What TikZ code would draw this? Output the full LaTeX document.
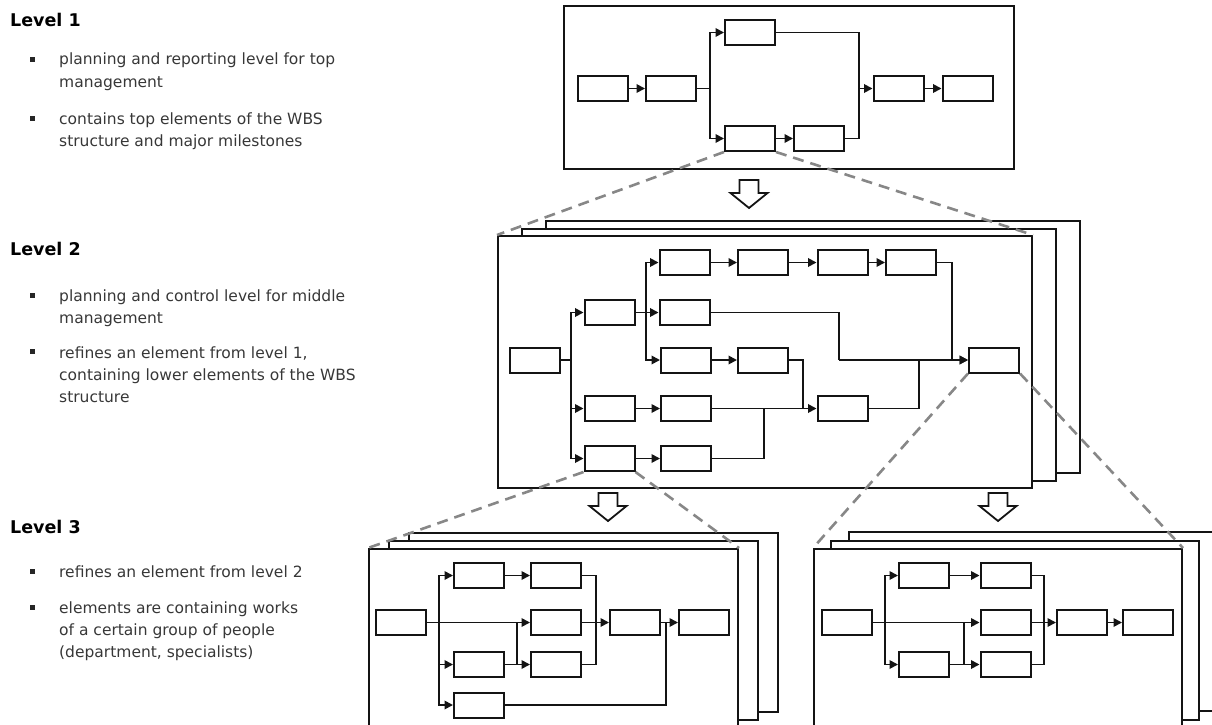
\documentclass[tikz,border=0pt]{standalone}
\usepackage{fontspec}
\setmainfont{DejaVu Sans}
\usetikzlibrary{arrows.meta, calc}
\definecolor{textGray}{RGB}{55, 55, 55}
\definecolor{zoomGray}{RGB}{135, 135, 135}
\definecolor{lineBlack}{RGB}{20, 20, 20}
\tikzset{
  taskBox/.style={
    draw=lineBlack,
    line width=2pt,
    fill=white,
    rectangle,
    minimum width=50pt,
    minimum height=25pt,
    inner sep=0pt
  },
  levelFrame/.style={
    draw=lineBlack,
    line width=2pt,
    fill=white,
    rectangle,
    anchor=north west,
    inner sep=0pt
  },
  flowLine/.style={
    draw=lineBlack,
    line width=1.8pt
  },
  flowArrow/.style={
    flowLine,
    -{Triangle[length=8.5pt, width=8.5pt]}
  },
  zoomLine/.style={
    draw=zoomGray,
    line width=2.6pt,
    dash pattern=on 11pt off 7pt
  },
  blockArrow/.style={
    draw=lineBlack,
    line width=1.8pt,
    fill=white
  },
  levelHead/.style={
    anchor=base west,
    inner sep=0pt,
    font=\fontsize{17.5}{21}\selectfont\bfseries
  },
  % anchor sits on the baseline of the last line
  levelText/.style={
    anchor=base west,
    inner sep=0pt,
    align=left,
    font=\fontsize{15.5}{22}\selectfont,
    text=textGray
  },
  bulletMark/.style={
    fill=black!85,
    rectangle,
    minimum size=5pt,
    inner sep=0pt
  }
}
\newcommand{\blockdown}[2]{%
  \draw[blockArrow] (#1-9.5,#2) -- (#1+9.5,#2) -- (#1+9.5,#2+13) -- (#1+18.5,#2+13)
    -- (#1,#2+28) -- (#1-18.5,#2+13) -- (#1-9.5,#2+13) -- cycle;}

\begin{document}
\begin{tikzpicture}[x=1pt, y=-1pt]
  \useasboundingbox (0,0) rectangle (1212,725);

  % Level descriptions
  \node[levelHead] (head1) at (10,27) {Level 1};
  \node[bulletMark] (dot1a) at (32,60) {};
  \node[levelText] (text1a) at (59,87) {planning and reporting level for top\\management};
  \node[bulletMark] (dot1b) at (32,118) {};
  \node[levelText] (text1b) at (59,146) {contains top elements of the WBS\\structure and major milestones};

  \node[levelHead] (head2) at (10,255) {Level 2};
  \node[bulletMark] (dot2a) at (32,295) {};
  \node[levelText] (text2a) at (59,323) {planning and control level for middle\\management};
  \node[bulletMark] (dot2b) at (32,351) {};
  \node[levelText] (text2b) at (59,402) {refines an element from level 1,\\containing lower elements of the WBS\\structure};

  \node[levelHead] (head3) at (10,533) {Level 3};
  \node[bulletMark] (dot3a) at (32,571) {};
  \node[levelText] (text3a) at (59,577) {refines an element from level 2};
  \node[bulletMark] (dot3b) at (32,607) {};
  \node[levelText] (text3b) at (59,657) {elements are containing works\\of a certain group of people\\(department, specialists)};

  % Level 1 plan
  \node[levelFrame, minimum width=450pt, minimum height=163pt] (lvl1) at (563,5) {};
  \node[taskBox] (t30) at (602.5,88.5) {};
  \node[taskBox] (t31) at (671,88.5) {};
  \node[taskBox] (t12) at (750,32.5) {};
  \node[taskBox] (t52) at (750,138.5) {};
  \node[taskBox] (t53) at (819,138.5) {};
  \node[taskBox] (t34) at (898.5,88.5) {};
  \node[taskBox] (t35) at (967.5,88.5) {};
  \coordinate (tsplit) at (710,88.5);
  \coordinate (tjoin) at (859,88.5);
  \draw[flowArrow] (t30) -- (t31);
  \draw[flowLine] (t31) -- (tsplit);
  \draw[flowArrow] (tsplit) |- (t12);
  \draw[flowArrow] (tsplit) |- (t52);
  \draw[flowArrow] (t52) -- (t53);
  \draw[flowLine] (t12) -| (tjoin);
  \draw[flowLine] (t53) -| (tjoin);
  \draw[flowArrow] (tjoin) -- (t34);
  \draw[flowArrow] (t34) -- (t35);

  \blockdown{749}{180}

  % Level 2 plan (stacked sheets)
  \node[levelFrame, minimum width=534pt, minimum height=252pt] (lvl2c) at (545,220) {};
  \node[levelFrame, minimum width=534pt, minimum height=252pt] (lvl2b) at (521,227.5) {};
  \node[levelFrame, minimum width=534pt, minimum height=252pt] (lvl2) at (497,235) {};
  \node[taskBox] (m30) at (535,360) {};
  \node[taskBox] (m21) at (609.5,312.5) {};
  \node[taskBox] (m41) at (609.5,408.5) {};
  \node[taskBox] (m51) at (609.5,458.5) {};
  \node[taskBox] (m12) at (684.5,262.5) {};
  \node[taskBox] (m13) at (763,262.5) {};
  \node[taskBox] (m14) at (842.5,262.5) {};
  \node[taskBox] (m15) at (911,262.5) {};
  \node[taskBox] (m22) at (684.5,312.5) {};
  \node[taskBox] (m32) at (686,360) {};
  \node[taskBox] (m33) at (763,360) {};
  \node[taskBox] (m42) at (686,408.5) {};
  \node[taskBox] (m52) at (686,458.5) {};
  \node[taskBox] (m44) at (842.5,408.5) {};
  \node[taskBox] (m36) at (994,360) {};
  \coordinate (msplit) at (571,360);
  \coordinate (mfork) at (646,312.5);
  \coordinate (mdown) at (952,360);
  \coordinate (mmid) at (839,360);
  \coordinate (mdrop) at (803,408.5);
  \coordinate (mrise) at (764,408.5);
  \coordinate (mup) at (919,360);
  \draw[flowLine] (m30) -- (msplit);
  \draw[flowArrow] (msplit) |- (m21);
  \draw[flowArrow] (msplit) |- (m41);
  \draw[flowArrow] (msplit) |- (m51);
  \draw[flowLine] (m21) -- (mfork);
  \draw[flowArrow] (mfork) |- (m12);
  \draw[flowArrow] (mfork) -- (m22);
  \draw[flowArrow] (mfork) |- (m32);
  \draw[flowArrow] (m12) -- (m13);
  \draw[flowArrow] (m13) -- (m14);
  \draw[flowArrow] (m14) -- (m15);
  \draw[flowArrow] (m15) -| (mdown) -- (m36);
  \draw[flowLine] (m22) -| (mmid);
  \draw[flowArrow] (mmid) -- (m36);
  \draw[flowArrow] (m32) -- (m33);
  \draw[flowLine] (m33) -| (mdrop);
  \draw[flowArrow] (m41) -- (m42);
  \draw[flowArrow] (m42) -- (m44);
  \draw[flowArrow] (m51) -- (m52);
  \draw[flowLine] (m52) -| (mrise);
  \draw[flowLine] (m44) -| (mup);

  \blockdown{608}{493}
  \blockdown{998}{493}

  % Level 3 plan, left
  \node[levelFrame, minimum width=369pt, minimum height=179pt] (lvl3lc) at (408,532) {};
  \node[levelFrame, minimum width=369pt, minimum height=179pt] (lvl3lb) at (388,540) {};
  \node[levelFrame, minimum width=369pt, minimum height=179pt] (lvl3l) at (368,548) {};
  \node[taskBox] (l20) at (401,622.5) {};
  \node[taskBox] (l11) at (479,575.5) {};
  \node[taskBox] (l12) at (556,575.5) {};
  \node[taskBox] (l22) at (556,622.5) {};
  \node[taskBox] (l31) at (479,664.5) {};
  \node[taskBox] (l32) at (556,664.5) {};
  \node[taskBox] (l41) at (479,705) {};
  \node[taskBox] (l23) at (635,622.5) {};
  \node[taskBox] (l24) at (704,622.5) {};
  \coordinate (lsplit) at (439,622.5);
  \coordinate (lfork) at (517,664.5);
  \coordinate (lmeet) at (517,622.5);
  \coordinate (lmerge) at (596,622.5);
  \coordinate (lrise) at (666,622.5);
  \draw[flowArrow] (l20) -- (l22);
  \draw[flowArrow] (lsplit) |- (l11);
  \draw[flowArrow] (lsplit) |- (l31);
  \draw[flowArrow] (lsplit) |- (l41);
  \draw[flowArrow] (l11) -- (l12);
  \draw[flowArrow] (l31) -- (l32);
  \draw[flowLine] (lfork) -- (lmeet);
  \draw[flowLine] (l12) -| (lmerge);
  \draw[flowLine] (l32) -| (lmerge);
  \draw[flowArrow] (l22) -- (l23);
  \draw[flowArrow] (l23) -- (l24);
  \draw[flowLine] (l41) -| (lrise);

  % Level 3 plan, right
  \node[levelFrame, minimum width=368pt, minimum height=179pt] (lvl3rc) at (848,531) {};
  \node[levelFrame, minimum width=368pt, minimum height=179pt] (lvl3rb) at (830,539.5) {};
  \node[levelFrame, minimum width=368pt, minimum height=179pt] (lvl3r) at (813,548) {};
  \node[taskBox] (r20) at (846.5,622.5) {};
  \node[taskBox] (r11) at (924,575.5) {};
  \node[taskBox] (r12) at (1005.5,575.5) {};
  \node[taskBox] (r22) at (1005.5,622.5) {};
  \node[taskBox] (r31) at (924,664.5) {};
  \node[taskBox] (r32) at (1005.5,664.5) {};
  \node[taskBox] (r23) at (1082,622.5) {};
  \node[taskBox] (r24) at (1148,622.5) {};
  \coordinate (rsplit) at (885,622.5);
  \coordinate (rfork) at (964,664.5);
  \coordinate (rmeet) at (964,622.5);
  \coordinate (rmerge) at (1044,622.5);
  \draw[flowArrow] (r20) -- (r22);
  \draw[flowArrow] (rsplit) |- (r11);
  \draw[flowArrow] (rsplit) |- (r31);
  \draw[flowArrow] (r11) -- (r12);
  \draw[flowArrow] (r31) -- (r32);
  \draw[flowLine] (rfork) -- (rmeet);
  \draw[flowLine] (r12) -| (rmerge);
  \draw[flowLine] (r32) -| (rmerge);
  \draw[flowArrow] (r22) -- (r23);
  \draw[flowArrow] (r23) -- (r24);

  % Zoom lines
  \draw[zoomLine] (t52.south west) -- (lvl2.north west);
  \draw[zoomLine] (t52.south east) -- (lvl2.north east);
  \draw[zoomLine] (m51.south west) -- (lvl3l.north west);
  \draw[zoomLine] (m51.south east) -- (lvl3l.north east);
  \draw[zoomLine] (m36.south west) -- (lvl3r.north west);
  \draw[zoomLine] (m36.south east) -- (lvl3r.north east);
\end{tikzpicture}
\end{document}
